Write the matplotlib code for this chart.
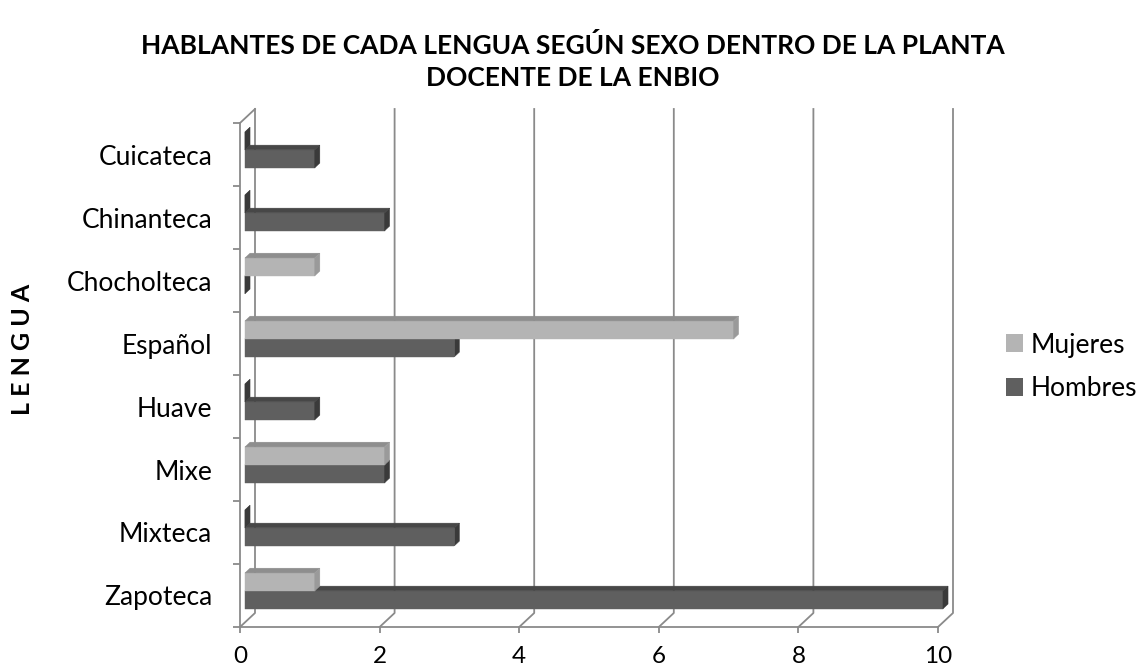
import numpy as np
import matplotlib.pyplot as plt
from matplotlib.patches import Polygon
from matplotlib.patches import Patch

plt.rcParams['font.family'] = ['Lato', 'DejaVu Sans']

lenguas = ['Zapoteca', 'Mixteca', 'Mixe', 'Huave', 'Español',
           'Chocholteca', 'Chinanteca', 'Cuicateca']
mujeres = [1, 0, 2, 0, 7, 1, 0, 0]
hombres = [10, 3, 2, 1, 3, 0, 2, 1]
xticks = [0, 2, 4, 6, 8, 10]

col_m = ('#b4b4b4', '#8e8e8e', '#9a9a9a')   # front, top, side
col_h = ('#5f5f5f', '#474747', '#3a3a3a')
grid_c = '#8a8a8a'

fig = plt.figure(figsize=(11.45, 6.69), dpi=100)
ax = fig.add_axes([240 / 1145, 42 / 669, 698 / 1145, 504 / 669])
ax.set_xlim(0, 10)
ax.set_ylim(0, len(lenguas))

# depth of the 3d box, in data units
dx = 15 / 69.8
dy = 14 / 63.0

# back wall grid + floor slants
for k in xticks:
    ax.plot([k, k + dx, k + dx], [0, dy, len(lenguas) + dy], color=grid_c,
            lw=1.3, clip_on=False, zorder=1)
ax.plot([0, dx], [len(lenguas), len(lenguas) + dy], color=grid_c, lw=1.3,
        clip_on=False, zorder=1)


def bar3d(x, y0, h, cols):
    d0, d1 = 0.33, 0.67
    ox0, oy0 = d0 * dx, d0 * dy
    ox1, oy1 = d1 * dx, d1 * dy
    front = [(ox0, y0 + oy0), (x + ox0, y0 + oy0), (x + ox0, y0 + h + oy0), (ox0, y0 + h + oy0)]
    top = [(ox0, y0 + h + oy0), (x + ox0, y0 + h + oy0), (x + ox1, y0 + h + oy1), (ox1, y0 + h + oy1)]
    side = [(x + ox0, y0 + oy0), (x + ox1, y0 + oy1), (x + ox1, y0 + h + oy1), (x + ox0, y0 + h + oy0)]
    for pts, c in zip([front, top, side], cols):
        ax.add_patch(Polygon(pts, closed=True, facecolor=c, edgecolor=c, lw=0.3,
                             clip_on=False, zorder=3))


bh = 0.285
for i in range(len(lenguas)):
    c = i + 0.5
    bar3d(hombres[i], c - bh, bh, col_h)
    if mujeres[i] == 0:
        bar3d(mujeres[i], c, bh, col_h)
    else:
        bar3d(mujeres[i], c, bh, col_m)

for s in ['top', 'right']:
    ax.spines[s].set_visible(False)
for s in ['left', 'bottom']:
    ax.spines[s].set_color(grid_c)
    ax.spines[s].set_linewidth(1.3)

ax.set_xticks(xticks)
ax.set_xticklabels([str(v) for v in xticks], fontsize=17.5)
ax.tick_params(axis='x', length=4.5, width=1.3, color=grid_c, pad=9)
ax.set_yticks(np.arange(len(lenguas) + 1))
ax.set_yticklabels([])
ax.tick_params(axis='y', which='major', length=5, width=1.3, color=grid_c)
ax.set_yticks(np.arange(len(lenguas)) + 0.5, minor=True)
ax.set_yticklabels(lenguas, minor=True, fontsize=19)
ax.tick_params(axis='y', which='minor', length=0, pad=20)

fig.text(0.5, 1 - 46 / 669, 'HABLANTES DE CADA LENGUA SEGÚN SEXO DENTRO DE LA PLANTA',
         ha='center', va='center', fontsize=19, fontweight='bold')
fig.text(0.5, 1 - 78 / 669, 'DOCENTE DE LA ENBIO',
         ha='center', va='center', fontsize=19, fontweight='bold')
fig.text(23 / 1145, 1 - 349 / 669, 'L E N G U A', rotation=90,
         ha='center', va='center', fontsize=18, fontweight='bold')

handles = [Patch(facecolor=col_m[0]), Patch(facecolor=col_h[0])]
fig.legend(handles, ['Mujeres', 'Hombres'], loc='center left',
           bbox_to_anchor=(982 / 1145, 1 - 367 / 669), frameon=False,
           fontsize=19, handlelength=0.65, handleheight=0.65,
           handletextpad=0.3, labelspacing=0.72)

fig.savefig('out.png', dpi=100)
